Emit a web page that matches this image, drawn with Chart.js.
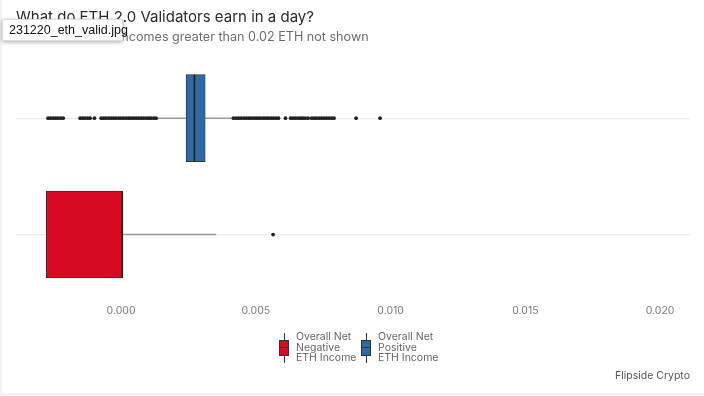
<!DOCTYPE html>
<html>
<head>
<meta charset="utf-8">
<script src="https://cdn.jsdelivr.net/npm/chart.js@4/dist/chart.umd.min.js"></script>
<style>
  html,body{margin:0;padding:0;background:#f4f4f4;width:704px;height:396px;overflow:hidden;font-family:Inter,"Noto Sans",sans-serif;}
  #card{position:absolute;left:2px;top:0;width:702px;height:393px;background:#fff;}
  #wrap{position:absolute;left:0;top:0;width:704px;height:396px;}
  .t{position:absolute;white-space:nowrap;}
  #title{left:16px;top:7px;font-size:15px;color:#2a2a2a;}
  #subtitle{left:16px;top:29px;font-size:12.6px;color:#6b6b6b;}
  #caption{right:14px;top:369px;font-size:10.5px;color:#555;}
  .leg{position:absolute;top:333px;height:30px;}
  .glyph{position:absolute;left:0;top:0;width:10px;height:30px;}
  .glyph .w{position:absolute;left:4.5px;width:1px;background:#333;}
  .glyph .b{position:absolute;left:0;top:7px;width:8px;height:14px;border:1px solid #333;}
  .glyph .m{position:absolute;left:0;top:14px;width:10px;height:1px;background:#333;}
  .legtxt{position:absolute;left:17px;top:-1px;font-size:10.5px;line-height:10.5px;color:#666;white-space:nowrap;}
  #tip{position:absolute;left:2px;top:19px;width:121px;height:22px;background:#fff;box-shadow:0 1px 4px rgba(0,0,0,0.35);border:1px solid #ddd;box-sizing:border-box;font-size:12.5px;color:#111;padding:3px 0 0 6px;font-family:"Liberation Sans",Arial,sans-serif;}
</style>
</head>
<body>
<div id="card"></div>
<div id="wrap"><canvas id="c" width="704" height="396"></canvas></div>
<div class="t" id="title">What do ETH 2.0 Validators earn in a day?</div>
<div class="t" id="subtitle">3 Validators with incomes greater than 0.02 ETH not shown</div>
<div class="t" id="caption">Flipside Crypto</div>
<div class="leg" style="left:279px"><div class="glyph"><div class="w" style="top:0;height:7px"></div><div class="b" style="background:#D90B23"></div><div class="m"></div><div class="w" style="top:23px;height:7px"></div></div><div class="legtxt">Overall Net<br>Negative<br>ETH Income</div></div>
<div class="leg" style="left:361px"><div class="glyph"><div class="w" style="top:0;height:7px"></div><div class="b" style="background:#2E6BA6"></div><div class="m"></div><div class="w" style="top:23px;height:7px"></div></div><div class="legtxt">Overall Net<br>Positive<br>ETH Income</div></div>
<div id="tip">231220_eth_valid.jpg</div>
<script>
// ---- data ----
const categories = ['Overall Net Positive ETH Income', 'Overall Net Negative ETH Income'];
const boxColors = ['#2E6BA6', '#D90B23'];
const q1Values = [0.00241, -0.00278];
const medianValues = [0.00272, 0.00004];
const q3Values = [0.00312, 0.00004];
const whiskerLow = [0.00137, -0.00278];
const whiskerHigh = [0.00412, 0.00353];
const positiveOutliers = [
  -0.00271, -0.00262, -0.00252, -0.00243, -0.00234, -0.00224, -0.00215,
  -0.00152, -0.00143, -0.00134, -0.00124, -0.00115,
  -0.00099,
  -0.00074, -0.00065, -0.00056, -0.00046, -0.00037, -0.00028, -0.00019, -0.00009,
  0.00000, 0.00009, 0.00019, 0.00028, 0.00037, 0.00046, 0.00056, 0.00065,
  0.00074, 0.00083, 0.00093, 0.00102, 0.00111, 0.00121, 0.00130,
  0.00417, 0.00427, 0.00436, 0.00445, 0.00455, 0.00464, 0.00473, 0.00482,
  0.00492, 0.00501, 0.00510, 0.00519, 0.00529, 0.00538, 0.00547, 0.00557,
  0.00566, 0.00575, 0.00584,
  0.00610,
  0.00629, 0.00638, 0.00647, 0.00657, 0.00666, 0.00675, 0.00684, 0.00694,
  0.00707, 0.00716, 0.00725, 0.00735, 0.00744, 0.00753, 0.00762, 0.00772, 0.00781, 0.00790,
  0.00872, 0.00961
];
const negativeOutliers = [0.00564];
const xTicks = [0, 0.005, 0.010, 0.015, 0.020];

// ---- datasets ----
const whiskerSets = categories.map((c, i) => ({
  type: 'line',
  data: [{x: whiskerLow[i], y: c}, {x: whiskerHigh[i], y: c}],
  borderColor: '#9a9a9a', borderWidth: 1.6, pointRadius: 0, order: 5
}));
const outlierPts = positiveOutliers.map(v => ({x: v, y: categories[0]}))
  .concat(negativeOutliers.map(v => ({x: v, y: categories[1]})));

new Chart(document.getElementById('c'), {
  type: 'bar',
  data: {
    labels: categories,
    datasets: [
      ...whiskerSets,
      {
        type: 'bar',
        data: categories.map((c, i) => [q1Values[i], q3Values[i]]),
        backgroundColor: boxColors,
        borderColor: '#2a2a2a', borderWidth: 0.8, borderSkipped: false,
        barThickness: 87, grouped: false, order: 2
      },
      {
        type: 'line', showLine: false,
        data: categories.map((c, i) => ({x: medianValues[i], y: c})),
        pointStyle: 'line', rotation: 90, pointRadius: 43.5,
        pointBorderColor: '#1e1e1e', pointBorderWidth: 1.6, order: 1
      },
      {
        type: 'line', showLine: false,
        data: outlierPts,
        pointRadius: 1.9, pointBackgroundColor: '#222', pointBorderWidth: 0, order: 0
      }
    ]
  },
  options: {
    indexAxis: 'y',
    responsive: false, animation: false,
    layout: {autoPadding: false, padding: {left: 16, right: 14, top: 60, bottom: 78.7}},
    plugins: {legend: {display: false}, tooltip: {enabled: false}},
    scales: {
      x: {
        type: 'linear', min: -0.0039, max: 0.02111,
        grid: {display: false, drawTicks: false},
        border: {display: false},
        afterBuildTicks: s => { s.ticks = xTicks.map(v => ({value: v})); },
        afterFit: s => { s.height = 24.6; s.paddingLeft = 0; s.paddingRight = 0; },
        ticks: {padding: 12, color: '#7a7a7a', font: {family: 'Inter', size: 10.5},
                callback: v => Number(v).toFixed(3)}
      },
      y: {
        type: 'category', offset: true,
        grid: {display: true, offset: false, color: '#ececec', lineWidth: 1.2, drawTicks: false},
        border: {display: false},
        afterFit: s => { s.width = 0; s.paddingTop = 0; s.paddingBottom = 0; },
        ticks: {display: false}
      }
    }
  }
});
</script>
</body>
</html>
